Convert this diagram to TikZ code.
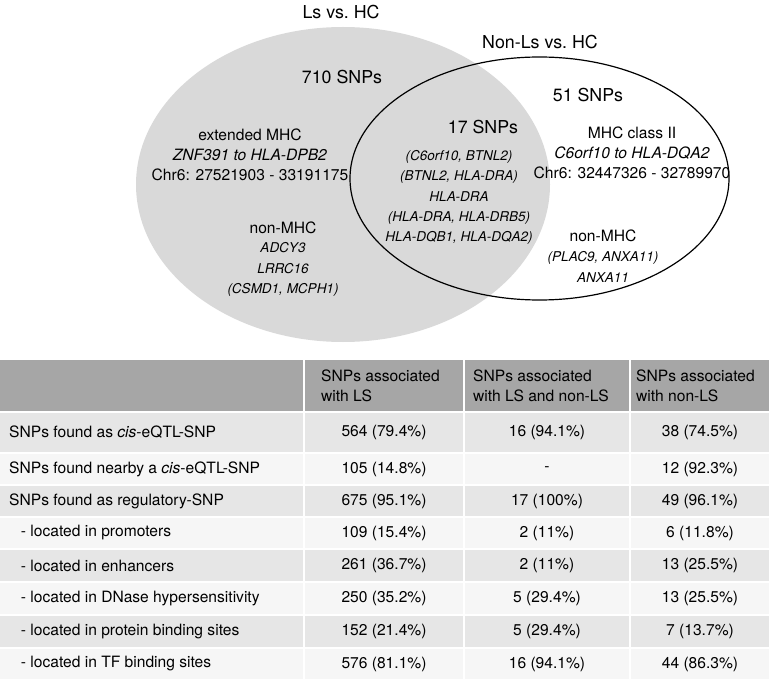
\documentclass[tikz,border=0pt]{standalone}
\usepackage{fontspec}
\setmainfont{TeX Gyre Heros}
\definecolor{vennGray}{HTML}{D9D9D9}
\definecolor{headGray}{HTML}{A6A6A6}
\definecolor{rowGray}{HTML}{E6E6E6}
\definecolor{rowWhite}{HTML}{F6F6F6}

\begin{document}
\begin{tikzpicture}[x=1pt,y=-1pt,
  every node/.style={inner sep=0pt},
  big/.style={font=\fontsize{17.8}{21}\selectfont},
  txt/.style={font=\fontsize{15.6}{20}\selectfont,align=center},
  genes/.style={font=\fontsize{13.5}{20.3}\selectfont\itshape,align=center},
  cell/.style={font=\fontsize{15.6}{20}\selectfont}]
  \useasboundingbox (0,0) rectangle (769,679);

  % Venn diagram
  \fill[vennGray] (343,184.5) ellipse [x radius=207, y radius=157.5];
  \draw[line width=1.2] (539.5,178.5) ellipse [x radius=189.5, y radius=121.5];
  \node[big] (lsTitle) at (341,12) {Ls vs.\ HC};
  \node[big] (nonlsTitle) at (540,42) {Non-Ls vs.\ HC};
  \node[big] (lsCount) at (342,77) {710 SNPs};
  \node[big] (bothCount) at (483,127) {17 SNPs};
  \node[big] (nonlsCount) at (588,95) {51 SNPs};
  \node[txt] (lsMHC) at (250,155) {extended MHC\\\textit{ZNF391 to HLA-DPB2}\\Chr6: 27521903 - 33191175};
  \node[txt] (lsOther) at (283,228) {non-MHC};
  \node[genes] (lsGenes) at (283,269.5) {ADCY3\\LRRC16\\(CSMD1, MCPH1)};
  \node[genes] (bothGenes) at (459,197.5) {(C6orf10, BTNL2)\\(BTNL2, HLA-DRA)\\HLA-DRA\\(HLA-DRA, HLA-DRB5)\\HLA-DQB1, HLA-DQA2)};
  \node[txt] (nonlsMHC) at (632,153) {MHC class II\\\textit{C6orf10 to HLA-DQA2}\\Chr6: 32447326 - 32789970};
  \node[txt] (nonlsOther) at (603,236) {non-MHC};
  \node[genes] (nonlsGenes) at (603,267) {(PLAC9, ANXA11)\\ANXA11};

  % table header
  \fill[headGray] (0,360) rectangle (303,411);
  \fill[headGray] (305,360) rectangle (463,411);
  \fill[headGray] (465,360) rectangle (629,411);
  \fill[headGray] (631,360) rectangle (769,411);
  \node[cell,anchor=west,align=left] (headLS) at (321,385.5) {SNPs associated\\with LS};
  \node[cell,anchor=west,align=left] (headBoth) at (473,385.5) {SNPs associated\\with LS and non-LS};
  \node[cell,anchor=west,align=left] (headNonLS) at (636,385.5) {SNPs associated\\with non-LS};

  % table rows
  \foreach \i/\ya/\yb/\shade/\ind/\lab/\ls/\both/\non in {
    1/413/452/rowGray/9/{SNPs found as \textit{cis}-eQTL-SNP}/{564 (79.4\%)}/{16 (94.1\%)}/{38 (74.5\%)},
    2/454/484/rowWhite/9/{SNPs found nearby a \textit{cis}-eQTL-SNP}/{105 (14.8\%)}/{-}/{12 (92.3\%)},
    3/486/516/rowGray/9/{SNPs found as regulatory-SNP}/{675 (95.1\%)}/{17 (100\%)}/{49 (96.1\%)},
    4/518/548/rowWhite/20.7/{- located in promoters}/{109 (15.4\%)}/{2 (11\%)}/{6 (11.8\%)},
    5/550/581/rowGray/20.7/{- located in enhancers}/{261 (36.7\%)}/{2 (11\%)}/{13 (25.5\%)},
    6/583/614/rowWhite/20.7/{- located in DNase hypersensitivity}/{250 (35.2\%)}/{5 (29.4\%)}/{13 (25.5\%)},
    7/616/647/rowGray/20.7/{- located in protein binding sites}/{152 (21.4\%)}/{5 (29.4\%)}/{7 (13.7\%)},
    8/649/679/rowWhite/20.7/{- located in TF binding sites}/{576 (81.1\%)}/{16 (94.1\%)}/{44 (86.3\%)}}
  {
    \fill[\shade] (0,\ya) rectangle (303,\yb);
    \fill[\shade] (305,\ya) rectangle (463,\yb);
    \fill[\shade] (465,\ya) rectangle (629,\yb);
    \fill[\shade] (631,\ya) rectangle (769,\yb);
    \node[cell,anchor=west] (lab\i) at (\ind,{(\ya+\yb)/2}) {\lab};
    \node[cell] (ls\i) at (384,{(\ya+\yb)/2}) {\ls};
    \node[cell] (both\i) at (547,{(\ya+\yb)/2}) {\both};
    \node[cell] (nonls\i) at (700,{(\ya+\yb)/2}) {\non};
  }
\end{tikzpicture}
\end{document}
